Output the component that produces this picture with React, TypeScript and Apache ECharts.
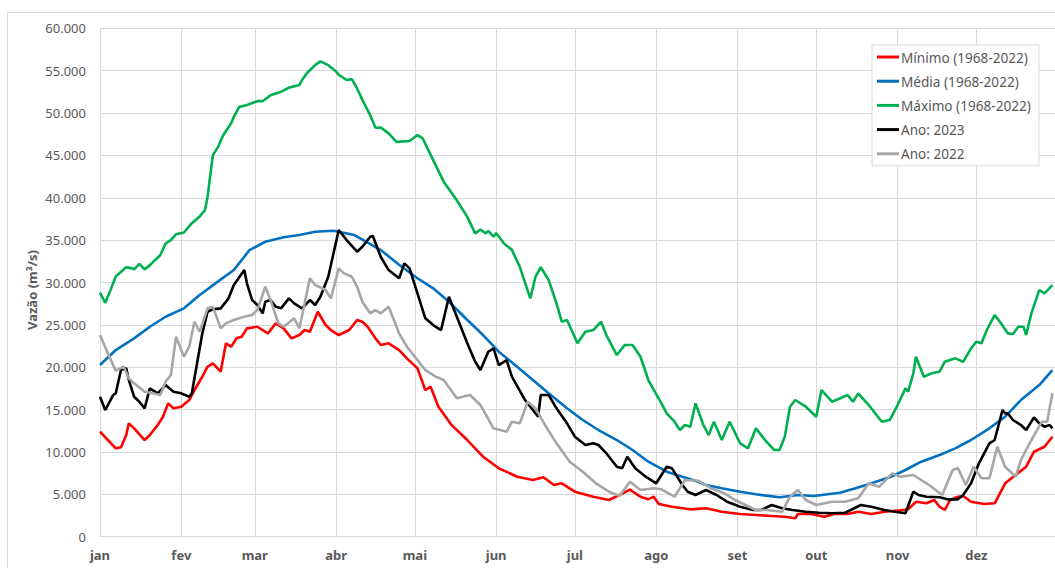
import React, { useEffect, useRef } from "react";
import * as echarts from "echarts";

const monthNames = ["jan", "fev", "mar", "abr", "mai", "jun", "jul", "ago", "set", "out", "nov", "dez"];
const monthStarts = [0, 31, 59, 90, 120, 151, 181, 212, 243, 273, 304, 334];
const dayCount = 365;
const yTicks = { min: 0, max: 60000, interval: 5000 };

const minDays = [0, 3, 6, 8, 10, 11, 13, 17, 19, 22, 24, 26, 28, 31, 34, 36, 39, 41, 43, 46, 48, 50, 52, 54, 56, 60, 64, 67, 70, 73, 76, 78, 80, 83, 86, 88, 91, 95, 98, 100, 102, 105, 107, 110, 114, 117, 121, 124, 126, 129, 134, 140, 146, 152, 159, 165, 169, 173, 176, 181, 188, 194, 198, 202, 206, 209, 211, 213, 218, 225, 231, 237, 244, 250, 256, 261, 265, 266, 271, 276, 280, 285, 289, 294, 299, 306, 308, 311, 315, 318, 320, 322, 324, 327, 329, 332, 337, 341, 343, 345, 349, 353, 356, 360, 363];
const minValues = [12390, 11410, 10430, 10550, 12000, 13380, 12790, 11410, 12000, 13180, 14160, 15740, 15150, 15340, 16130, 17310, 18880, 20060, 20460, 19470, 22820, 22420, 23410, 23600, 24590, 24780, 24000, 25180, 24590, 23410, 23800, 24390, 24190, 26550, 24980, 24390, 23800, 24390, 25570, 25370, 24780, 23410, 22620, 22820, 22030, 21050, 19870, 17310, 17700, 15340, 13180, 11410, 9440, 8070, 7080, 6690, 7010, 6100, 6300, 5310, 4720, 4330, 4920, 5550, 4720, 4410, 4720, 3860, 3540, 3230, 3350, 2950, 2680, 2560, 2440, 2360, 2170, 2680, 2680, 2360, 2680, 2680, 2950, 2680, 2950, 3150, 3230, 4130, 3940, 4330, 3540, 3150, 4330, 4720, 4800, 4130, 3860, 3940, 5120, 6300, 7280, 8260, 10030, 10620, 11800];

const meanDays = [0, 6, 13, 19, 25, 32, 38, 44, 51, 57, 63, 70, 76, 82, 89, 97, 107, 114, 121, 127, 133, 140, 146, 152, 159, 165, 171, 178, 184, 190, 197, 203, 209, 216, 222, 228, 231, 237, 244, 250, 259, 266, 272, 282, 288, 294, 301, 307, 313, 320, 326, 332, 339, 345, 351, 358, 363];
const meanValues = [20260, 22030, 23410, 24780, 25960, 26950, 28520, 29900, 31470, 33830, 34810, 35330, 35600, 35990, 36110, 35600, 33830, 32100, 30500, 29310, 27730, 25570, 23800, 21830, 20060, 18490, 16920, 15150, 13770, 12590, 11410, 10230, 8850, 7670, 7080, 6490, 6100, 5710, 5310, 5000, 4650, 4920, 4800, 5190, 5710, 6300, 7010, 7870, 8850, 9640, 10430, 11410, 12790, 14160, 16130, 17900, 19670];

const maxDays = [0, 2, 4, 6, 10, 12, 13, 15, 17, 19, 23, 25, 27, 29, 32, 35, 38, 40, 41, 43, 45, 47, 50, 51, 53, 56, 60, 62, 65, 69, 72, 76, 77, 79, 82, 84, 87, 90, 91, 94, 96, 98, 100, 103, 105, 107, 110, 113, 118, 121, 123, 127, 131, 136, 140, 143, 145, 147, 148, 150, 151, 154, 157, 160, 164, 166, 168, 171, 174, 176, 178, 182, 185, 188, 191, 193, 197, 200, 203, 206, 209, 214, 216, 219, 221, 223, 225, 227, 230, 232, 234, 237, 240, 244, 247, 250, 254, 257, 259, 261, 263, 265, 269, 273, 275, 279, 285, 287, 289, 293, 298, 301, 304, 307, 308, 310, 311, 314, 317, 320, 322, 326, 329, 332, 334, 336, 338, 341, 343, 346, 348, 350, 352, 353, 355, 358, 360, 363];
const maxValues = [28800, 27600, 29100, 30700, 31800, 31700, 31550, 32200, 31550, 32050, 33250, 34600, 35000, 35700, 35900, 37000, 37800, 38550, 40100, 45000, 46000, 47400, 48800, 49550, 50700, 50950, 51400, 51400, 52100, 52500, 53000, 53300, 53900, 54750, 55650, 56100, 55650, 54900, 54500, 53900, 54000, 52900, 51550, 49750, 48260, 48300, 47600, 46600, 46700, 47400, 47000, 44450, 41900, 39700, 37750, 35800, 36250, 35800, 36100, 35400, 35850, 34600, 33850, 31850, 28130, 30680, 31800, 30300, 27540, 25370, 25570, 22820, 24190, 24390, 25370, 23800, 21440, 22620, 22620, 21240, 18490, 15740, 14560, 13570, 12590, 13180, 12980, 15740, 13180, 12000, 13570, 11410, 13570, 11020, 10430, 12790, 11210, 10230, 10230, 11800, 15340, 16130, 15340, 14160, 17310, 15930, 16720, 15930, 16920, 15540, 13570, 13770, 15540, 17510, 17110, 19280, 21240, 18880, 19280, 19470, 20650, 21050, 20650, 22230, 23010, 22820, 24390, 26160, 25370, 24000, 23920, 24780, 24780, 23800, 26360, 29110, 28720, 29700];

const y2023Days = [0, 2, 5, 6, 8, 10, 11, 13, 15, 17, 19, 22, 25, 28, 31, 34, 35, 37, 39, 41, 43, 46, 49, 51, 55, 56, 58, 60, 62, 63, 65, 67, 69, 72, 74, 77, 80, 82, 84, 87, 89, 91, 94, 98, 100, 103, 104, 107, 110, 114, 116, 118, 121, 124, 127, 130, 133, 136, 140, 143, 145, 148, 150, 152, 155, 157, 162, 165, 167, 168, 171, 174, 178, 181, 185, 188, 190, 193, 197, 199, 201, 204, 208, 212, 216, 218, 222, 224, 227, 231, 235, 239, 244, 249, 252, 256, 260, 264, 269, 274, 279, 284, 290, 294, 299, 303, 307, 310, 312, 315, 320, 323, 327, 329, 332, 335, 339, 341, 344, 345, 346, 348, 351, 353, 356, 358, 360, 362, 363];
const y2023Values = [16520, 14950, 16720, 16920, 19670, 19870, 18490, 16520, 15930, 15150, 17510, 16920, 17900, 17110, 16920, 16520, 16920, 20460, 24000, 26550, 26830, 26950, 28130, 29700, 31470, 29900, 27930, 27340, 26360, 27730, 27930, 27140, 26950, 28130, 27540, 26950, 27930, 27340, 28320, 30680, 33440, 36190, 35010, 33630, 34220, 35400, 35480, 33040, 31470, 30490, 32260, 31670, 28720, 25770, 24980, 24390, 28320, 25960, 22820, 20650, 19670, 21830, 22230, 20260, 20850, 18880, 16130, 14950, 14160, 16720, 16720, 15150, 13380, 11800, 10820, 11020, 10820, 9840, 8260, 8070, 9440, 8070, 7080, 6300, 8260, 8070, 6100, 5310, 4920, 5510, 4920, 4130, 3540, 3150, 3150, 3740, 3350, 3150, 2950, 2830, 2760, 2830, 3740, 3540, 3150, 2950, 2760, 5310, 4920, 4720, 4650, 4410, 4410, 4920, 6300, 8660, 11020, 11410, 14950, 14560, 14560, 13770, 13180, 12590, 14090, 13380, 12980, 13180, 12790];

const y2022Days = [0, 3, 6, 9, 11, 13, 17, 20, 23, 25, 27, 29, 32, 34, 36, 38, 41, 43, 46, 48, 51, 55, 58, 60, 63, 65, 68, 70, 74, 76, 78, 80, 82, 86, 88, 91, 93, 96, 98, 100, 103, 105, 107, 110, 112, 114, 117, 120, 124, 128, 131, 136, 141, 145, 150, 155, 157, 160, 163, 166, 170, 174, 179, 184, 189, 194, 198, 202, 206, 211, 214, 219, 223, 228, 233, 238, 242, 246, 250, 254, 260, 263, 266, 269, 273, 279, 284, 289, 293, 297, 302, 305, 310, 316, 321, 325, 327, 330, 333, 336, 339, 342, 345, 349, 351, 355, 359, 361, 363];
const y2022Values = [23800, 21640, 19600, 20060, 18690, 18100, 17110, 16920, 16720, 18290, 19080, 23600, 21240, 22420, 25370, 24190, 26950, 27140, 24590, 25180, 25570, 25960, 26160, 26750, 29500, 27930, 25180, 24780, 25770, 24590, 27540, 30490, 29700, 29110, 28130, 31670, 31080, 30680, 29500, 27730, 26360, 26750, 26360, 27140, 25570, 24000, 22420, 21240, 19670, 18880, 18490, 16330, 16720, 15540, 12790, 12390, 13570, 13380, 15930, 15150, 12980, 11020, 8850, 7670, 6300, 5310, 4800, 6490, 5510, 5710, 5590, 4720, 6690, 6610, 5710, 5120, 4330, 3740, 3150, 3150, 2950, 4720, 5510, 4330, 3740, 4130, 4130, 4530, 6300, 5900, 7480, 7080, 7280, 6100, 4920, 7870, 8070, 6100, 8260, 6890, 6890, 10620, 8260, 7080, 9050, 11410, 13570, 13570, 16920];

const seriesDefs = [
  { name: "Mínimo (1968-2022)", days: minDays, values: minValues, color: "#ff0000" },
  { name: "Média (1968-2022)", days: meanDays, values: meanValues, color: "#0070c0" },
  { name: "Máximo (1968-2022)", days: maxDays, values: maxValues, color: "#00b050" },
  { name: "Ano: 2023", days: y2023Days, values: y2023Values, color: "#000000" },
  { name: "Ano: 2022", days: y2022Days, values: y2022Values, color: "#a6a6a6" },
];

const FONT = "Noto Sans";
const TEXT = "#595959";
const GRID = "#d9d9d9";

function fmtThousands(v: number): string {
  return String(v).replace(/\B(?=(\d{3})+(?!\d))/g, ".");
}

export default function App() {
  const ref = useRef<HTMLDivElement>(null);
  useEffect(() => {
    if (!ref.current) return;
    const chart = echarts.init(ref.current, null, { renderer: "svg" });
    const categories = Array.from({ length: dayCount }, (_, i) => String(i));
    const isMonthStart = (i: number) => monthStarts.indexOf(i) >= 0;
    chart.setOption({
      animation: false,
      textStyle: { fontFamily: FONT },
      grid: { left: 100, right: -1.6, top: 28.3, bottom: 31.3, containLabel: false },
      xAxis: {
        type: "category",
        data: categories,
        boundaryGap: false,
        axisLine: { show: true, lineStyle: { color: GRID, width: 1 } },
        axisTick: { show: false },
        axisLabel: {
          interval: (i: number) => isMonthStart(i),
          formatter: (_v: string, i: number) => monthNames[monthStarts.indexOf(i)] ?? "",
          color: TEXT,
          fontSize: 13,
          fontWeight: "bold",
          fontFamily: FONT,
          margin: 12,
        },
        splitLine: {
          show: true,
          interval: (i: number) => isMonthStart(i),
          lineStyle: { color: GRID, width: 1 },
        },
      },
      yAxis: {
        type: "value",
        min: yTicks.min,
        max: yTicks.max,
        interval: yTicks.interval,
        axisLine: { show: false },
        axisTick: { show: false },
        axisLabel: {
          formatter: (v: number) => fmtThousands(v),
          color: TEXT,
          fontSize: 13,
          fontFamily: FONT,
          margin: 14,
        },
        splitLine: { show: true, lineStyle: { color: GRID, width: 1 } },
      },
      legend: {
        orient: "vertical",
        left: 872,
        top: 45,
        padding: [5, 8, 5, 5],
        icon: "rect",
        itemWidth: 22,
        itemHeight: 3,
        itemGap: 10.2,
        borderColor: GRID,
        borderWidth: 1,
        backgroundColor: "#ffffff",
        textStyle: {
          color: TEXT,
          fontSize: 13.6,
          lineHeight: 14,
          fontFamily: FONT,
          padding: [0, 0, 0, -3],
        },
        data: seriesDefs.map((s) => s.name),
      },
      graphic: [
        {
          type: "rect",
          shape: { x: 7.5, y: 12.5, width: 1100, height: 600 },
          style: { fill: "none", stroke: GRID, lineWidth: 1 },
          silent: true,
          z: -10,
        },
        {
          type: "text",
          x: 32,
          y: 290,
          rotation: Math.PI / 2,
          style: {
            text: "Vazão (m³/s)",
            fill: TEXT,
            font: `bold 13px '${FONT}'`,
            textAlign: "center",
            textVerticalAlign: "middle",
          },
        },
      ],
      series: seriesDefs.map((s) => ({
        name: s.name,
        type: "line",
        data: s.days.map((d, i) => [d, s.values[i]]),
        symbol: "none",
        smooth: false,
        lineStyle: { color: s.color, width: 2.6 },
        itemStyle: { color: s.color },
        z: 3,
      })),
    });
    return () => chart.dispose();
  }, []);
  return (
    <div
      ref={ref}
      style={{ position: "fixed", left: 0, top: 0, width: 1055, height: 568, background: "#fff" }}
    />
  );
}
